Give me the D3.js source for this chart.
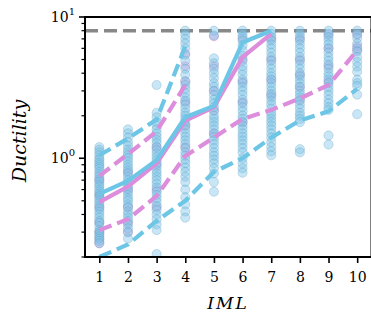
<!DOCTYPE html>
<html><head><meta charset="utf-8">
<script src="https://cdn.jsdelivr.net/npm/d3@7"></script>
<style>body{margin:0;background:#fff}svg{display:block}
text{font-family:"DejaVu Serif",serif;}
</style>
</head><body><svg id="c" width="371" height="324"></svg>
<script>
const imls = [1,2,3,4,5,6,7,8,9,10];
const capValue = 8;
// scatter values per IML (index 0 -> IML 1)
const bluePoints = [
 [1.2,1.15,1.1,1.05,1.0,0.97,0.93,0.9,0.87,0.84,0.8,0.77,0.74,0.71,0.68,0.65,0.63,0.6,0.58,0.56,0.54,0.52,0.5,0.48,0.46,0.44,0.42,0.4,0.38,0.36,0.35,0.33,0.31,0.3,0.29,0.28,0.27,0.26,0.25],
 [1.6,1.5,1.4,1.3,1.22,1.15,1.1,1.05,1.0,0.95,0.9,0.86,0.82,0.78,0.74,0.7,0.67,0.64,0.61,0.58,0.55,0.52,0.5,0.47,0.45,0.42,0.4,0.38,0.36,0.34,0.32,0.3,0.27],
 [3.3,2.1,1.95,1.8,1.7,1.6,1.5,1.42,1.35,1.28,1.2,1.14,1.08,1.02,0.97,0.92,0.87,0.82,0.78,0.74,0.7,0.66,0.62,0.58,0.55,0.52,0.49,0.46,0.43,0.4,0.37,0.34,0.31,0.21],
 [8,7.5,7,6.5,6,5.4,4.9,4.3,3.9,3.5,3.3,3.1,2.9,2.7,2.55,2.4,2.25,2.1,2.0,1.9,1.8,1.7,1.6,1.5,1.42,1.34,1.26,1.18,1.1,1.04,0.98,0.92,0.86,0.8,0.74,0.68,0.6,0.53,0.47,0.42,0.38],
 [8,7.4,5.1,4.7,4.3,4.0,3.7,3.4,3.2,3.0,2.8,2.6,2.45,2.3,2.15,2.0,1.9,1.8,1.7,1.6,1.5,1.42,1.34,1.26,1.18,1.1,1.04,0.98,0.92,0.85,0.78,0.68,0.58],
 [8,7.6,7.2,6.8,6.3,5.8,5.3,4.9,4.5,4.2,3.9,3.6,3.4,3.2,3.0,2.8,2.6,2.45,2.3,2.15,2.0,1.9,1.8,1.7,1.6,1.5,1.42,1.34,1.26,1.18,1.1,1.0,0.92,0.85,0.79],
 [8,7.6,7.2,6.8,6.4,6.0,5.6,5.2,4.9,4.6,4.3,4.0,3.8,3.6,3.4,3.2,3.0,2.85,2.7,2.55,2.4,2.25,2.1,2.0,1.9,1.8,1.7,1.6,1.5,1.4,1.3,1.2,1.12,1.05],
 [8,7.6,7.2,6.8,6.4,6.0,5.6,5.2,4.9,4.6,4.3,4.0,3.8,3.6,3.4,3.2,3.0,2.85,2.7,2.55,2.4,2.25,2.1,2.0,1.9,1.8,1.16,1.1],
 [8,7.6,7.2,6.8,6.4,6.0,5.6,5.2,4.9,4.6,4.3,4.0,3.8,3.6,3.4,3.2,3.0,2.8,2.6,2.45,2.3,2.2,1.45,1.25],
 [8,7.6,7.1,6.5,6.0,5.7,5.2,4.8,4.45,4.1,3.6,3.4,3.25,2.82,2.05]
];
const pinkPoints = [
 [0.7,0.55,0.45,0.35,0.3,0.27,0.25],
 [0.8,0.6,0.45,0.35,0.3],
 [1.2,0.9,0.6,0.45],
 [5.5,4.5,3.5,2.5,1.7,1.2],
 [7.3,4.5,3.0,2.2,1.5],
 [7.0,5.0,3.5,2.5,1.8],
 [7.0,5.0,3.6,2.8],
 [7.0,5.0,3.9,3.2,2.6],
 [7.5,6.0,4.5,3.5],
 [7.5,6.2,5.8]
];
// statistic lines
const blueMedian = [0.56,0.69,0.97,1.95,2.35,6.6,8];
const pinkMedian = [0.49,0.63,0.92,1.85,2.3,5.2,7.6];
const blueUpper = [1.05,1.38,1.88,6.2];
const pinkUpper = [0.75,1.07,1.55,3.3];
const blueLower = [0.2,0.245,0.36,0.5,0.8,1.0,1.4,1.85,2.15,3.1];
const pinkLower = [0.31,0.37,0.54,1.04,1.4,1.9,2.2,2.65,3.3,5.8];
const xTickLabels = ["1","2","3","4","5","6","7","8","9","10"];

const blueC = "#6ec6e6", pinkC = "#dc8ddc";
const svg = d3.select("#c");
const m = {l:85, r:371.5, t:17, b:257};
const x = d3.scaleLinear().domain([0.5,10.5]).range([m.l,m.r]);
const y = d3.scaleLog().domain([0.2,10]).range([m.b,m.t]);

svg.append("clipPath").attr("id","clip").append("rect")
  .attr("x",m.l).attr("y",m.t).attr("width",m.r-m.l).attr("height",m.b-m.t);
const g = svg.append("g").attr("clip-path","url(#clip)");

// cap line
g.append("line").attr("x1",m.l).attr("x2",m.r).attr("y1",y(capValue)).attr("y2",y(capValue))
  .attr("stroke","#888").attr("stroke-width",3.6).attr("stroke-dasharray","13,6");

function scatter(pts,fill,stroke,op){
  pts.forEach((vals,i)=>{
    g.selectAll(null).data(vals).enter().append("circle")
      .attr("cx",x(imls[i])).attr("cy",d=>y(d)).attr("r",4.6)
      .attr("fill",fill).attr("fill-opacity",op)
      .attr("stroke",stroke).attr("stroke-opacity",0.3).attr("stroke-width",0.8);
  });
}
scatter(pinkPoints,"#dda0dd","#b070b0",0.5);
scatter(bluePoints,"#7cc4e6","#3f88b0",0.42);

const line = d3.line().x((d,i)=>x(imls[i])).y(d=>y(d));
function drawLine(vals,color,dashed){
  g.append("path").datum(vals).attr("d",line).attr("fill","none")
   .attr("stroke",color).attr("stroke-width",4.2)
   .attr("stroke-dasharray",dashed?"13,6":null);
}
drawLine(pinkLower,pinkC,true);
drawLine(pinkUpper,pinkC,true);
drawLine(blueLower,blueC,true);
drawLine(blueUpper,blueC,true);
drawLine(pinkMedian,pinkC,false);
drawLine(blueMedian,blueC,false);

// axes
const xAxis = d3.axisBottom(x).tickValues(imls).tickFormat((d,i)=>xTickLabels[i]).tickSize(6).tickPadding(9);
const gx = svg.append("g").attr("transform",`translate(0,${m.b})`).call(xAxis);
gx.attr("font-family",null);
gx.select(".domain").remove();
gx.selectAll(".tick line").attr("stroke","#000").attr("stroke-width",1.6);
gx.selectAll(".tick text").attr("font-size",14).attr("fill","#000");

const minor = [0.2,0.3,0.4,0.5,0.6,0.7,0.8,0.9,2,3,4,5,6,7,8,9];
const ga = svg.append("g");
ga.selectAll(null).data(minor).enter().append("line")
  .attr("x1",m.l-3.5).attr("x2",m.l).attr("y1",d=>y(d)).attr("y2",d=>y(d))
  .attr("stroke","#000").attr("stroke-width",1.2);
[1,10].forEach((v,i)=>{
  ga.append("line").attr("x1",m.l-6).attr("x2",m.l).attr("y1",y(v)).attr("y2",y(v))
    .attr("stroke","#000").attr("stroke-width",1.6);
  const t = ga.append("text").attr("x",m.l-10).attr("y",y(v)+5).attr("text-anchor","end")
    .attr("font-size",14).attr("fill","#000");
  t.append("tspan").text("10");
  t.append("tspan").attr("font-size",10).attr("dy",-7).text(i===0?"0":"1");
});

// spines
svg.append("rect").attr("x",m.l).attr("y",m.t).attr("width",m.r-m.l).attr("height",m.b-m.t)
  .attr("fill","none").attr("stroke","#000").attr("stroke-width",2);

svg.append("text").attr("x",(m.l+371)/2).attr("y",309).attr("text-anchor","middle")
  .attr("font-style","italic").attr("font-size",17).attr("letter-spacing",2).text("IML");
svg.append("text").attr("transform",`translate(26,${(m.t+m.b)/2 + 4}) rotate(-90)`).attr("text-anchor","middle")
  .attr("font-style","italic").attr("font-size",19).text("Ductility");
</script></body></html>
